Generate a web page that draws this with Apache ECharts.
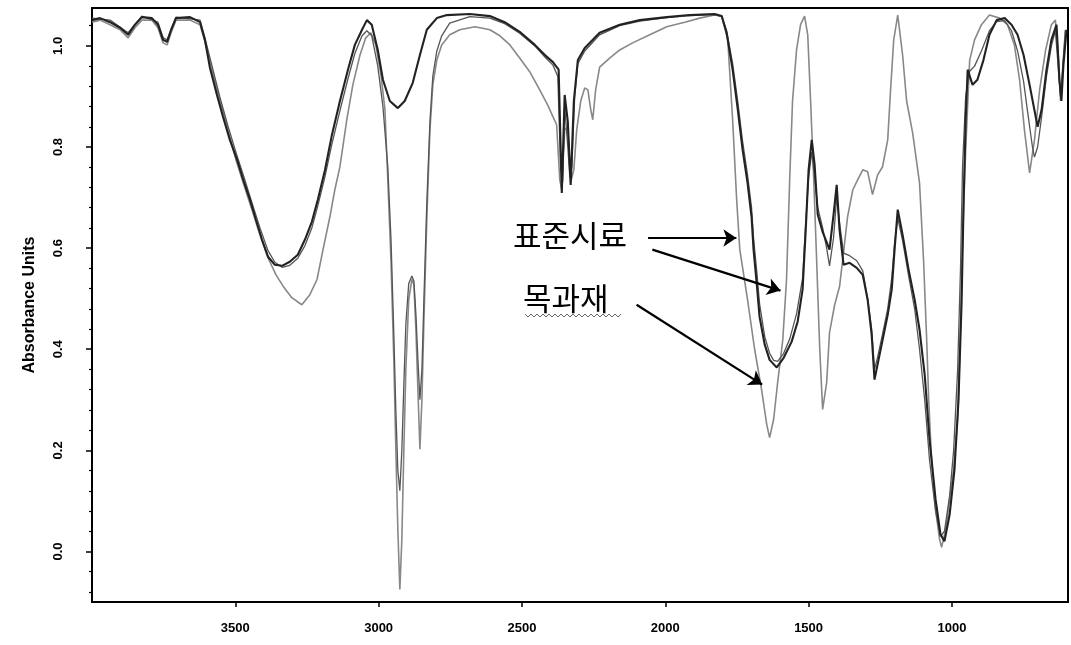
<!DOCTYPE html>
<html>
<head>
<meta charset="utf-8">
<script src="https://cdn.jsdelivr.net/npm/echarts@6/dist/echarts.min.js"></script>
<style>
html,body{margin:0;padding:0;background:#fff;}
#chart{width:1071px;height:645px;}
</style>
</head>
<body>
<div id="chart"></div>
<script>
// ---- data (wavenumber cm-1 / absorbance) ----
var xTicks = [1000, 1500, 2000, 2500, 3000, 3500];
var yTicks = [0, 0.2, 0.4, 0.6, 0.8, 1.0];
var yMinorTicks = [-0.08,-0.04,0.04,0.08,0.12,0.16,0.24,0.28,0.32,0.36,0.44,0.48,0.52,0.56,0.64,0.68,0.72,0.76,0.84,0.88,0.92,0.96,1.04];

var std1Wn = [4000,3972,3937,3902,3874,3850,3826,3791,3770,3752,3738,3724,3707,3658,3623,3606,3589,3564,3543,3519,3494,3470,3449,3428,3407,3386,3362,3337,3310,3282,3257,3233,3212,3187,3163,3135,3107,3083,3058,3041,3024,3003,2985,2961,2933,2909,2881,2856,2832,2797,2762,2682,2612,2560,2508,2455,2420,2392,2372,2361,2351,2340,2330,2319,2305,2281,2229,2159,2089,1995,1915,1828,1803,1786,1765,1747,1730,1713,1699,1692,1681,1671,1653,1636,1611,1587,1559,1538,1521,1510,1500,1489,1479,1468,1451,1427,1413,1402,1392,1378,1357,1332,1311,1294,1280,1270,1256,1238,1224,1210,1200,1189,1172,1151,1130,1113,1095,1078,1057,1040,1026,1008,991,977,966,959,952,945,928,911,890,869,844,816,792,771,750,729,701,687,670,653,635,625,618,611,600];
var std1Abs = [1.051,1.055,1.047,1.036,1.022,1.042,1.057,1.055,1.042,1.012,1.008,1.032,1.055,1.057,1.047,1.012,0.958,0.903,0.860,0.814,0.775,0.731,0.696,0.656,0.617,0.583,0.567,0.565,0.573,0.587,0.617,0.652,0.696,0.755,0.824,0.891,0.953,1.002,1.032,1.051,1.042,0.992,0.933,0.891,0.877,0.891,0.927,0.982,1.032,1.055,1.061,1.063,1.059,1.047,1.028,1.002,0.982,0.968,0.953,0.709,0.903,0.850,0.725,0.891,0.972,0.996,1.026,1.042,1.051,1.057,1.061,1.063,1.059,1.026,0.953,0.874,0.794,0.729,0.662,0.597,0.530,0.464,0.409,0.379,0.364,0.383,0.415,0.455,0.518,0.636,0.755,0.814,0.765,0.666,0.632,0.597,0.666,0.725,0.636,0.567,0.571,0.561,0.547,0.498,0.429,0.340,0.379,0.429,0.468,0.518,0.597,0.676,0.626,0.557,0.498,0.439,0.350,0.221,0.103,0.034,0.020,0.073,0.162,0.300,0.498,0.696,0.854,0.953,0.923,0.933,0.972,1.022,1.051,1.055,1.042,1.022,0.982,0.923,0.840,0.874,0.953,1.012,1.042,0.933,0.891,0.962,1.032];

var std2Wn = [4000,3937,3874,3826,3770,3752,3738,3707,3623,3606,3582,3554,3526,3498,3470,3442,3414,3386,3362,3337,3310,3282,3257,3233,3212,3187,3163,3135,3107,3083,3058,3041,3024,3003,2985,2968,2957,2947,2940,2933,2926,2919,2912,2905,2895,2884,2877,2870,2863,2856,2849,2842,2832,2821,2811,2797,2780,2752,2682,2612,2560,2508,2455,2420,2392,2375,2365,2358,2351,2340,2333,2326,2316,2305,2281,2229,2159,2089,1995,1915,1828,1803,1786,1765,1747,1730,1713,1699,1692,1681,1671,1653,1636,1622,1608,1587,1566,1542,1521,1510,1500,1489,1479,1468,1451,1437,1427,1413,1402,1392,1378,1357,1332,1311,1294,1280,1270,1259,1242,1224,1210,1200,1189,1172,1151,1130,1113,1095,1078,1057,1040,1026,1008,994,980,970,963,952,938,921,897,869,844,816,792,771,750,736,719,712,701,687,670,653,639,628,621,614,604];
var std2Abs = [1.055,1.051,1.026,1.059,1.047,1.016,1.012,1.057,1.051,1.016,0.962,0.899,0.842,0.790,0.741,0.690,0.640,0.595,0.572,0.562,0.566,0.580,0.605,0.640,0.684,0.742,0.806,0.872,0.935,0.985,1.020,1.030,1.020,0.960,0.880,0.760,0.620,0.430,0.280,0.160,0.120,0.200,0.330,0.450,0.530,0.545,0.535,0.470,0.380,0.300,0.360,0.500,0.690,0.850,0.940,0.990,1.020,1.045,1.058,1.055,1.044,1.025,1.000,0.978,0.962,0.940,0.760,0.730,0.880,0.800,0.740,0.760,0.900,0.965,0.990,1.022,1.040,1.049,1.056,1.060,1.062,1.058,1.030,0.965,0.890,0.810,0.745,0.680,0.620,0.555,0.490,0.425,0.392,0.378,0.376,0.392,0.420,0.470,0.540,0.650,0.740,0.790,0.740,0.680,0.640,0.600,0.565,0.620,0.700,0.650,0.590,0.585,0.575,0.555,0.500,0.440,0.360,0.385,0.430,0.480,0.540,0.610,0.660,0.615,0.545,0.480,0.400,0.300,0.180,0.080,0.030,0.040,0.110,0.200,0.360,0.560,0.760,0.900,0.950,0.960,0.990,1.030,1.048,1.050,1.030,0.990,0.930,0.870,0.800,0.780,0.800,0.860,0.940,1.000,1.030,0.950,0.900,0.950,1.030];

var mokWn = [4000,3972,3937,3902,3874,3850,3826,3791,3770,3752,3738,3724,3707,3658,3623,3606,3582,3554,3526,3498,3470,3442,3414,3386,3358,3330,3303,3268,3240,3215,3194,3170,3153,3135,3111,3090,3065,3045,3027,3010,2992,2978,2968,2957,2947,2940,2933,2926,2919,2912,2905,2895,2884,2877,2870,2863,2856,2849,2842,2832,2821,2811,2797,2780,2752,2717,2664,2612,2577,2542,2508,2473,2438,2410,2392,2379,2368,2361,2351,2340,2330,2319,2309,2295,2281,2270,2260,2253,2243,2229,2194,2159,2114,2054,1995,1932,1880,1828,1803,1782,1765,1751,1740,1713,1688,1664,1646,1636,1622,1608,1590,1577,1566,1556,1542,1528,1514,1503,1493,1482,1472,1461,1451,1437,1427,1409,1392,1381,1364,1346,1329,1311,1294,1277,1259,1242,1224,1214,1203,1189,1172,1158,1137,1113,1099,1088,1081,1071,1057,1043,1036,1022,1008,994,980,970,963,952,938,921,897,869,834,806,782,764,747,729,712,694,673,653,639,628,621,614,604];
var mokAbs = [1.047,1.051,1.042,1.032,1.016,1.036,1.051,1.051,1.036,1.006,1.002,1.026,1.051,1.051,1.042,1.008,0.953,0.891,0.834,0.775,0.725,0.676,0.626,0.581,0.547,0.522,0.502,0.488,0.508,0.538,0.597,0.662,0.715,0.761,0.854,0.923,0.982,1.016,1.026,1.002,0.943,0.874,0.735,0.577,0.379,0.202,0.043,-0.075,0.024,0.202,0.360,0.498,0.538,0.528,0.439,0.320,0.202,0.300,0.458,0.656,0.834,0.923,0.972,1.002,1.022,1.032,1.038,1.032,1.020,1.002,0.976,0.949,0.913,0.883,0.860,0.844,0.735,0.715,0.834,0.840,0.730,0.755,0.834,0.891,0.917,0.913,0.874,0.854,0.913,0.958,0.976,0.992,1.006,1.022,1.038,1.047,1.055,1.061,1.059,1.012,0.854,0.696,0.597,0.498,0.399,0.320,0.251,0.225,0.261,0.334,0.419,0.538,0.735,0.891,0.992,1.042,1.059,1.022,0.891,0.735,0.577,0.399,0.281,0.334,0.433,0.488,0.524,0.577,0.662,0.715,0.735,0.755,0.751,0.706,0.745,0.761,0.814,0.913,1.012,1.061,0.982,0.891,0.828,0.729,0.577,0.419,0.300,0.182,0.083,0.024,0.008,0.043,0.103,0.162,0.261,0.439,0.617,0.794,0.972,1.012,1.042,1.061,1.055,1.042,1.002,0.933,0.834,0.749,0.814,0.913,0.992,1.042,1.051,0.972,0.891,0.953,1.032];

var labelStd = '표준시료';
var labelMok = '목과재';

function pairs(wn, ab) {
  var out = [];
  for (var i = 0; i < wn.length; i++) out.push([wn[i], ab[i]]);
  return out;
}

var chart = echarts.init(document.getElementById('chart'), null, {renderer: 'canvas'});

var wavy = [];
for (var i = 0; i <= 32; i++) wavy.push([525 + i * 3, 315 + (i % 2 ? 2 : -1)]);

var option = {
  animation: false,
  backgroundColor: '#fff',
  grid: {left: 92, top: 8, right: 3, bottom: 43, show: true, borderColor: '#000', borderWidth: 2, backgroundColor: 'transparent'},
  xAxis: {
    type: 'value', inverse: true, min: 595, max: 4000,
    axisLine: {show: true, onZero: false, lineStyle: {color: '#000', width: 2}},
    axisTick: {show: true, customValues: xTicks, length: 5, lineStyle: {color: '#000', width: 1.5}},
    axisLabel: {customValues: xTicks, color: '#000', fontSize: 13, fontWeight: 'bold', fontFamily: 'Liberation Sans', margin: 20,
      formatter: function (v) { return String(v); }},
    splitLine: {show: false}
  },
  yAxis: [{
    type: 'value', min: -0.1, max: 1.075,
    name: 'Absorbance Units', nameLocation: 'middle', nameGap: 54, nameRotate: 90,
    nameTextStyle: {color: '#000', fontSize: 16, fontWeight: 'bold', fontFamily: 'Liberation Sans'},
    axisLine: {show: true, onZero: false, lineStyle: {color: '#000', width: 2}},
    axisTick: {show: true, customValues: yTicks, length: 6, lineStyle: {color: '#000', width: 1.5}},
    axisLabel: {customValues: yTicks, rotate: 90, color: '#000', fontSize: 13, fontWeight: 'bold', fontFamily: 'Liberation Sans', margin: 27,
      formatter: function (v) { return v.toFixed(1); }},
    splitLine: {show: false}
  }, {
    type: 'value', min: -0.1, max: 1.075, position: 'left',
    axisLine: {show: false},
    axisTick: {show: true, customValues: yMinorTicks, length: 3, lineStyle: {color: '#000', width: 1.2}},
    axisLabel: {show: false},
    splitLine: {show: false}
  }],
  series: [
    {
      name: labelMok, type: 'line', data: pairs(mokWn, mokAbs), showSymbol: false, symbol: 'none',
      lineStyle: {color: '#888888', width: 1.6}, z: 2
    },
    {
      name: labelStd + ' 2', type: 'line', data: pairs(std2Wn, std2Abs), showSymbol: false, symbol: 'none',
      lineStyle: {color: '#555555', width: 1.3}, z: 3
    },
    {
      name: labelStd, type: 'line', data: pairs(std1Wn, std1Abs), showSymbol: false, symbol: 'none',
      lineStyle: {color: '#222222', width: 2.1}, z: 4,
      markLine: {
        silent: true, symbol: ['none', 'arrow'], symbolSize: 13,
        label: {show: false},
        lineStyle: {color: '#000', width: 2.2, type: 'solid'},
        emphasis: {disabled: true},
        data: [
          [{coord: [2060, 0.62], symbol: 'none'}, {coord: [1752, 0.62], symbol: 'arrow', symbolSize: 13}],
          [{coord: [2045, 0.597], symbol: 'none'}, {coord: [1598, 0.516], symbol: 'arrow', symbolSize: 13}],
          [{coord: [2100, 0.488], symbol: 'none'}, {coord: [1662, 0.33], symbol: 'arrow', symbolSize: 13}]
        ]
      }
    }
  ],
  graphic: [
    {type: 'text', left: 513, top: 220, style: {text: labelStd, fontSize: 31, fontFamily: 'Noto Sans CJK KR', fill: '#000'}},
    {type: 'text', left: 523, top: 283, style: {text: labelMok, fontSize: 31, fontFamily: 'Noto Sans CJK KR', fill: '#000'}},
    {type: 'polyline', shape: {points: wavy}, style: {stroke: '#666', lineWidth: 1, fill: null}}
  ]
};
chart.setOption(option);
</script>
</body>
</html>
